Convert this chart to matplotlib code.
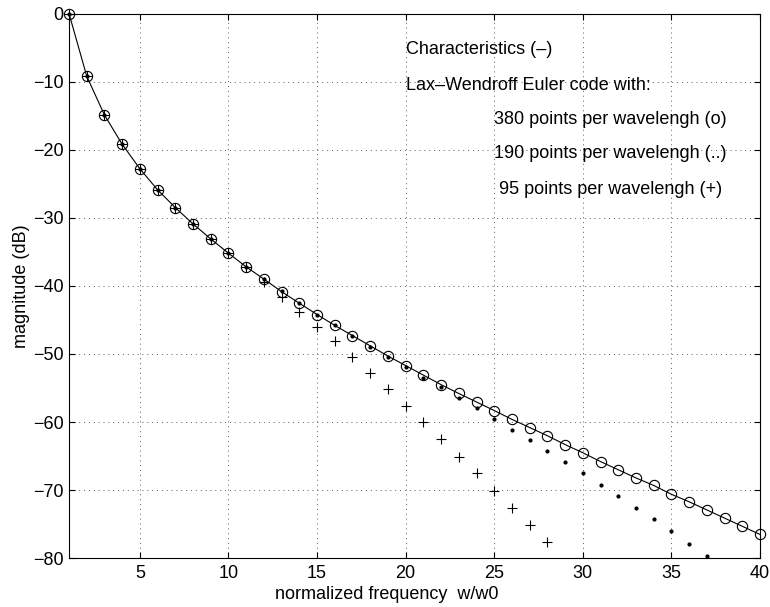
import matplotlib
matplotlib.use("Agg")
import matplotlib.pyplot as plt
import numpy as np

plt.rcParams['font.family'] = ['Liberation Sans', 'DejaVu Sans']

# normalized frequency w/w0
freq = np.arange(1, 41)

# characteristics (solid line) and 380 points per wavelength (o)
charac = [0, -9.2, -14.9, -19.2, -22.8, -25.9, -28.5, -30.9, -33.1, -35.2,
          -37.2, -39.0, -40.85, -42.55, -44.2, -45.8, -47.3, -48.8, -50.3, -51.7,
          -53.1, -54.5, -55.8, -57.05, -58.3, -59.6, -60.8, -62.0, -63.3, -64.5,
          -65.8, -67.0, -68.2, -69.3, -70.6, -71.7, -72.9, -74.1, -75.3, -76.5]
mag_380 = list(charac)

# 190 points per wavelength (..)
freq_190 = np.arange(1, 38)
mag_190 = [0, -9.2, -14.9, -19.2, -22.8, -25.9, -28.5, -30.9, -33.1, -35.2,
           -37.2, -39.0, -40.8, -42.5, -44.2, -45.8, -47.3, -48.9, -50.4, -51.9,
           -53.5, -54.9, -56.4, -58.0, -59.5, -61.1, -62.7, -64.3, -65.9, -67.5,
           -69.2, -70.9, -72.6, -74.3, -76.0, -77.9, -79.6]

# 95 points per wavelength (+)
freq_95 = np.arange(1, 29)
mag_95 = [0, -9.2, -14.9, -19.2, -22.8, -25.9, -28.5, -30.9, -33.1, -35.2,
          -37.2, -39.5, -41.6, -43.8, -46.0, -48.1, -50.4, -52.8, -55.1, -57.6,
          -60.0, -62.5, -65.1, -67.5, -70.05, -72.6, -75.1, -77.6]

labels = ["Characteristics (\u2013)",
          "Lax\u2013Wendroff Euler code with:",
          "380 points per wavelengh (o)",
          "190 points per wavelengh (..)",
          " 95 points per wavelengh (+)"]

fs = 13

fig = plt.figure(figsize=(7.7, 6.07), dpi=100)
ax = fig.add_axes([69 / 770, 1 - 558.3 / 607, 691 / 770, 544.8 / 607])

ax.plot(freq, charac, '-', color='k', linewidth=0.8)
ax.plot(freq, mag_380, 'o', color='k', markerfacecolor='none',
        markersize=7.4, markeredgewidth=0.8, clip_on=False)
ax.plot(freq_190, mag_190, '.', color='k', markersize=4, clip_on=False)
ax.plot(freq_95, mag_95, '+', color='k', markersize=7, markeredgewidth=0.8,
        clip_on=False)

ax.set_xlim(1, 40)
ax.set_ylim(-80, 0)
ax.set_xticks(np.arange(5, 41, 5))
ax.set_yticks(np.arange(-80, 1, 10))
ax.tick_params(direction='in', top=True, right=True, labelsize=fs, length=4)
ax.tick_params(axis='x', pad=5)
ax.tick_params(axis='y', pad=4)
ax.grid(True, linestyle=(0, (1, 4)), color='0.35', linewidth=0.7)
for s in ax.spines.values():
    s.set_linewidth(0.8)

ax.set_xlabel("normalized frequency  w/w0", fontsize=fs)
ax.xaxis.set_label_coords(0.46, -0.05)
ax.set_ylabel("magnitude (dB)", fontsize=fs, labelpad=2)

text_x = [20, 20, 25, 25, 25]
text_y = [-5.3, -10.5, -15.5, -20.6, -25.8]
for tx, ty, t in zip(text_x, text_y, labels):
    ax.text(tx, ty, t, fontsize=fs, va='center', ha='left')

fig.savefig("out.png", dpi=100)
